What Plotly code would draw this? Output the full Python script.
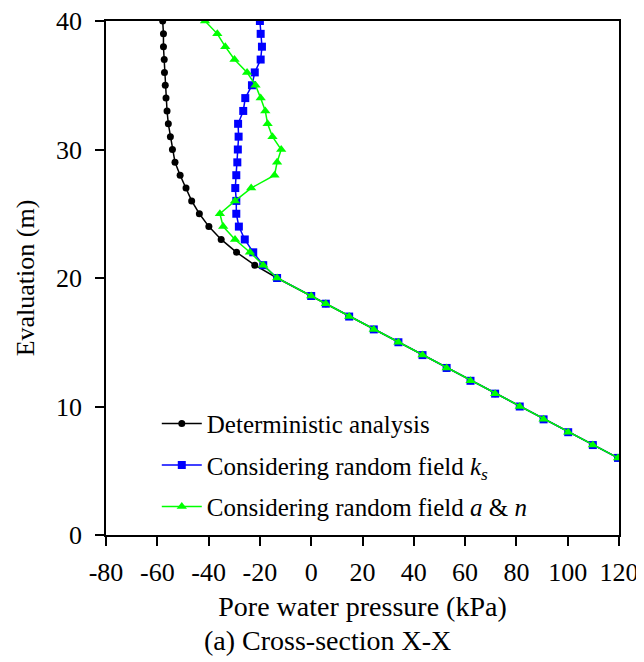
import plotly.graph_objects as go

# Elevation (m) for the upper (unsaturated) part
elev_upper = [40, 39, 38, 37, 36, 35, 34, 33, 32, 31, 30, 29, 28, 27, 26, 25, 24, 23, 22, 21]
# Shared lower part (below ~21 m the three curves coincide)
elev_lower = [20, 18.6, 18, 17, 16, 15, 14, 13, 12, 11, 10, 9, 8, 7, 6]
pwp_lower = [-13.3, 0.0, 5.7, 14.8, 24.4, 34.0, 43.4, 52.8, 62.1, 71.7, 81.3, 90.6, 100.2, 109.8, 119.6]

pwp_det = [-57.9, -57.6, -57.6, -57.3, -57.2, -56.9, -56.6, -56.2, -55.7, -54.9,
           -54.1, -53.1, -51.1, -48.8, -46.6, -43.6, -39.9, -35.1, -29.1, -22.0]
pwp_ks = [-20.0, -19.7, -19.2, -19.7, -22.0, -23.1, -25.7, -26.5, -28.5, -28.3,
          -28.6, -28.8, -29.2, -29.6, -29.2, -29.2, -28.2, -25.9, -22.6, -18.7]
pwp_an = [-41.4, -36.6, -33.5, -29.9, -25.0, -21.7, -19.7, -17.9, -17.0, -15.1,
          -11.7, -13.3, -14.3, -23.4, -29.7, -35.6, -34.3, -29.7, -23.9, -18.7]

x_ticks = [-80, -60, -40, -20, 0, 20, 40, 60, 80, 100, 120]
y_ticks = [0, 10, 20, 30, 40]

FONT = "Liberation Serif"

fig = go.Figure()
fig.add_trace(go.Scatter(
    x=pwp_det + pwp_lower, y=elev_upper + elev_lower, mode="lines+markers",
    name="Deterministic analysis", legendgroup="a",
    line=dict(color="black", width=1.5),
    marker=dict(symbol="circle", size=7, color="black"),
))
fig.add_trace(go.Scatter(
    x=pwp_ks + pwp_lower, y=elev_upper + elev_lower, mode="lines+markers",
    name="Considering random field <i>k</i><sub><i>s</i></sub>", legendgroup="b",
    line=dict(color="#0000ff", width=1.5),
    marker=dict(symbol="square", size=8, color="#0000ff"),
))
fig.add_trace(go.Scatter(
    x=pwp_an + pwp_lower, y=elev_upper + elev_lower, mode="lines+markers",
    name="Considering random field <i>a</i> & <i>n</i>", legendgroup="c",
    line=dict(color="#00ff00", width=1.5),
    marker=dict(symbol="triangle-up", size=9, color="#00ff00"),
))

fig.update_layout(
    width=636, height=654,
    margin=dict(l=98, r=25, t=13, b=127, autoexpand=False),
    paper_bgcolor="white", plot_bgcolor="white",
    font=dict(family=FONT, size=26, color="black"),
    showlegend=True,
    legend=dict(
        x=0.099, y=0.261, xanchor="left", yanchor="top",
        bgcolor="rgba(0,0,0,0)", font=dict(size=25, family=FONT),
        itemwidth=40, tracegroupgap=6,
    ),
    annotations=[dict(
        text="(a) Cross-section X-X", xref="paper", yref="paper",
        x=0.432, y=-0.206, xanchor="center", yanchor="middle",
        showarrow=False, font=dict(size=28, family=FONT),
    )],
)
fig.update_xaxes(
    range=[-80, 120], tickvals=x_ticks, ticktext=[str(v) for v in x_ticks],
    showline=True, linecolor="black", linewidth=1.5, mirror=True,
    ticks="outside", ticklen=9, tickwidth=1.5, tickcolor="black",
    tickfont=dict(size=26, family=FONT), ticklabelstandoff=4,
    ticklabeloverflow="allow",
    showgrid=False, zeroline=False, automargin=False,
    title=dict(text="Pore water pressure (kPa)", standoff=10, font=dict(size=28, family=FONT)),
)
fig.update_yaxes(
    range=[0, 40], tickvals=y_ticks, ticktext=[str(v) for v in y_ticks],
    showline=True, linecolor="black", linewidth=1.5, mirror=True,
    ticks="outside", ticklen=9, tickwidth=1.5, tickcolor="black",
    tickfont=dict(size=26, family=FONT), ticklabelstandoff=8,
    ticklabeloverflow="allow",
    showgrid=False, zeroline=False, automargin=False,
    title=dict(text="Evaluation (m)", standoff=14, font=dict(size=26, family=FONT)),
)

fig.write_html("out.html")
